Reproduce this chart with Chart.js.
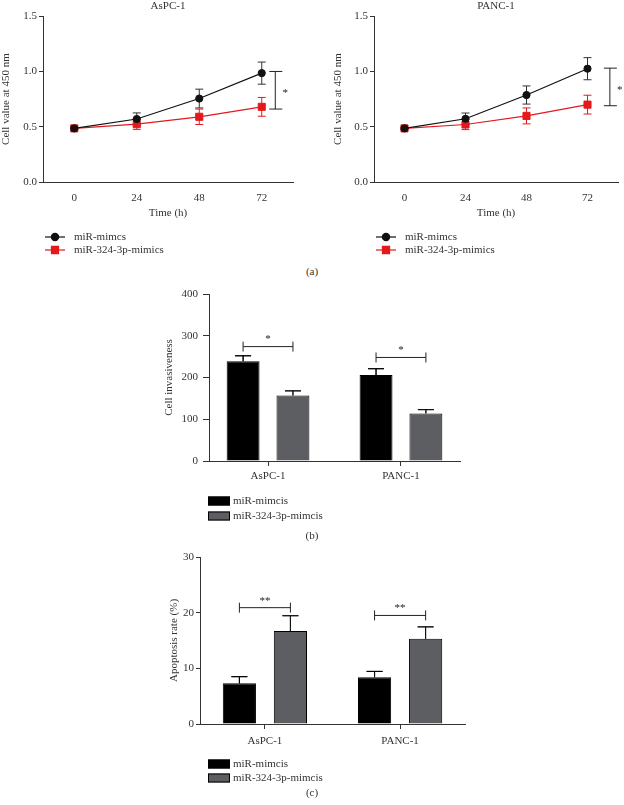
<!DOCTYPE html>
<html>
<head>
<meta charset="utf-8">
<script src="https://cdn.jsdelivr.net/npm/chart.js@4.4.1/dist/chart.umd.min.js"></script>
<style>
  body { margin: 0; background: #fff; width: 624px; height: 805px; position: relative; overflow: hidden; font-family: "Liberation Serif", serif; }
  canvas { position: absolute; }
  .lab { position: absolute; width: 40px; margin-left: -20px; text-align: center; font-size: 11px; line-height: 12px; color: #333; z-index: 2; }
</style>
</head>
<body>
<canvas id="aLeft" width="312" height="260" style="left:0;top:0"></canvas>
<canvas id="aRight" width="312" height="260" style="left:312px;top:0"></canvas>
<div class="lab" style="left:312px;top:265px">(a)</div>
<canvas id="bChart" width="330" height="250" style="left:150px;top:280px"></canvas>
<div class="lab" style="left:312px;top:529px">(b)</div>
<canvas id="cChart" width="330" height="250" style="left:150px;top:545px"></canvas>
<div class="lab" style="left:312px;top:786px">(c)</div>
<script>
// (a) CCK-8 curves
const timePoints = [0, 24, 48, 72];
const lineNames = ['miR-mimcs', 'miR-324-3p-mimics'];
const asMimics = [0.485, 0.57, 0.755, 0.985];
const asMimicsErr = [0.01, 0.055, 0.085, 0.1];
const as324 = [0.485, 0.523, 0.59, 0.68];
const as324Err = [0.01, 0.047, 0.07, 0.085];
const pancMimics = [0.485, 0.572, 0.787, 1.025];
const pancMimicsErr = [0.01, 0.052, 0.082, 0.1];
const panc324 = [0.485, 0.52, 0.598, 0.7];
const panc324Err = [0.01, 0.046, 0.072, 0.085];
const yTicksA = [0, 0.5, 1.0, 1.5];

// (b) invasion, (c) apoptosis
const cellLines = ['AsPC-1', 'PANC-1'];
const barNames = ['miR-mimcis', 'miR-324-3p-mimcis'];
const invMimics = [239, 206];
const invMimicsErr = [13, 15];
const inv324 = [157, 114];
const inv324Err = [11, 9];
const apoMimics = [7.3, 8.4];
const apoMimicsErr = [1.2, 1.05];
const apo324 = [16.7, 15.3];
const apo324Err = [2.75, 2.15];

// significance marks (value coordinates)
const sigAsPC = { x: 77.2, from: 0.66, to: 1.0, label: '*' };
const sigPANC = { x: 80.8, from: 0.69, to: 1.03, label: '*' };
const sigInv = [{ cat: 0, y: 274, label: '*' }, { cat: 1, y: 248, label: '*' }];
const sigApo = [{ cat: 0, y: 20.9, label: '**' }, { cat: 1, y: 19.5, label: '**' }];

const FONT = '"Liberation Serif", "Times New Roman", serif';
Chart.defaults.font.family = FONT;
Chart.defaults.font.size = 11;
Chart.defaults.color = '#333';

const errorBars = {
  id: 'errorBars',
  beforeDatasetsDraw(chart, args, opts) {
    const ctx = chart.ctx, ys = chart.scales.y;
    chart.data.datasets.forEach((ds, i) => {
      if (!ds.err) return;
      const meta = chart.getDatasetMeta(i);
      ctx.save();
      ctx.strokeStyle = ds.errColor;
      ctx.lineWidth = 1;
      meta.data.forEach((el, j) => {
        const v = ds.data[j].y;
        const top = ys.getPixelForValue(v + ds.err[j]);
        const bot = opts.upOnly ? ys.getPixelForValue(v) : ys.getPixelForValue(v - ds.err[j]);
        const w = opts.cap;
        ctx.beginPath();
        ctx.moveTo(el.x, top); ctx.lineTo(el.x, bot);
        ctx.moveTo(el.x - w, top); ctx.lineTo(el.x + w, top);
        if (!opts.upOnly) { ctx.moveTo(el.x - w, bot); ctx.lineTo(el.x + w, bot); }
        ctx.stroke();
      });
      ctx.restore();
    });
  },
  afterDatasetsDraw(chart, args, opts) {
    if (!opts.upOnly) return;
    // redraw the cap stems above bars so they sit on top
    const ctx = chart.ctx, ys = chart.scales.y;
    chart.data.datasets.forEach((ds, i) => {
      const meta = chart.getDatasetMeta(i);
      ctx.save();
      ctx.strokeStyle = ds.errColor;
      ctx.lineWidth = 1;
      meta.data.forEach((el, j) => {
        const v = ds.data[j].y;
        const top = ys.getPixelForValue(v + ds.err[j]);
        const bot = ys.getPixelForValue(v);
        ctx.beginPath();
        ctx.moveTo(el.x, top); ctx.lineTo(el.x, bot);
        ctx.moveTo(el.x - opts.cap, top); ctx.lineTo(el.x + opts.cap, top);
        ctx.stroke();
      });
      ctx.restore();
    });
  }
};

const sigMarks = {
  id: 'sigMarks',
  afterDatasetsDraw(chart, args, opts) {
    const ctx = chart.ctx, xs = chart.scales.x, ys = chart.scales.y;
    ctx.save();
    ctx.strokeStyle = '#222';
    ctx.fillStyle = '#222';
    ctx.lineWidth = 1;
    ctx.font = '11px ' + FONT;
    ctx.textAlign = 'center';
    ctx.textBaseline = 'middle';
    (opts.marks || []).forEach(m => {
      ctx.beginPath();
      if (m.cat !== undefined) {
        const x1 = chart.getDatasetMeta(0).data[m.cat].x;
        const x2 = chart.getDatasetMeta(1).data[m.cat].x;
        const y = ys.getPixelForValue(m.y);
        ctx.moveTo(x1, y); ctx.lineTo(x2, y);
        ctx.moveTo(x1, y - 5); ctx.lineTo(x1, y + 5);
        ctx.moveTo(x2, y - 5); ctx.lineTo(x2, y + 5);
        ctx.stroke();
        ctx.fillText(m.label, (x1 + x2) / 2, y - 7);
      } else {
        const x = xs.getPixelForValue(m.x);
        const y1 = ys.getPixelForValue(m.from), y2 = ys.getPixelForValue(m.to);
        ctx.moveTo(x, y1); ctx.lineTo(x, y2);
        ctx.moveTo(x - 6, y1); ctx.lineTo(x + 7, y1);
        ctx.moveTo(x - 6, y2); ctx.lineTo(x + 7, y2);
        ctx.stroke();
        ctx.fillText(m.label, x + 10, (y1 + y2) / 2 + 3);
      }
    });
    ctx.restore();
  }
};

const sideLegend = {
  id: 'sideLegend',
  afterDraw(chart, args, opts) {
    const ctx = chart.ctx, a = chart.chartArea;
    ctx.save();
    ctx.font = '11px ' + FONT;
    ctx.textAlign = 'left';
    ctx.textBaseline = 'middle';
    chart.data.datasets.forEach((ds, i) => {
      const x = a.left + opts.dx, y = a.bottom + opts.dy[i];
      if (chart.config.type === 'line') {
        ctx.strokeStyle = ds.borderColor;
        ctx.fillStyle = ds.backgroundColor;
        ctx.lineWidth = 1.2;
        ctx.beginPath(); ctx.moveTo(x, y); ctx.lineTo(x + 20, y); ctx.stroke();
        Chart.helpers.drawPoint(ctx, { pointStyle: ds.pointStyle, radius: ds.pointRadius, borderWidth: 1 }, x + 10, y);
      } else {
        ctx.fillStyle = ds.backgroundColor;
        ctx.fillRect(x, y - 4.5, 22, 9);
        ctx.strokeStyle = '#000';
        ctx.lineWidth = 1;
        ctx.strokeRect(x + 0.5, y - 4, 21, 8);
      }
      ctx.fillStyle = '#333';
      ctx.fillText(ds.label, x + opts.textDx, y);
    });
    ctx.restore();
  }
};

function lineChart(id, title, mimics, mimicsErr, p324, p324Err, geo, mark) {
  return new Chart(document.getElementById(id), {
    type: 'line',
    data: {
      datasets: [
        {
          label: lineNames[0],
          data: timePoints.map((t, i) => ({ x: t, y: mimics[i] })),
          err: mimicsErr, errColor: '#333',
          borderColor: '#111', backgroundColor: '#111',
          borderWidth: 1.2, pointStyle: 'circle', pointRadius: 3.6, pointBorderWidth: 1, tension: 0
        },
        {
          label: lineNames[1],
          data: timePoints.map((t, i) => ({ x: t, y: p324[i] })),
          err: p324Err, errColor: '#e3191c',
          borderColor: '#e3191c', backgroundColor: '#e3191c',
          borderWidth: 1.2, pointStyle: 'rect', pointRadius: 5, pointBorderWidth: 1, tension: 0
        }
      ]
    },
    options: {
      responsive: false,
      animation: false,
      layout: { padding: { left: geo.left, right: geo.right, top: 0, bottom: 38 } },
      plugins: {
        legend: { display: false },
        tooltip: { enabled: false },
        title: { display: true, text: title, fullSize: false, color: '#333', font: { size: 11, weight: 'normal' }, padding: { top: 0, bottom: 3 } },
        errorBars: { cap: 4, upOnly: false },
        sigMarks: { marks: [mark] },
        sideLegend: { dx: 2, dy: [55, 68], textDx: 29 }
      },
      scales: {
        x: {
          type: 'linear', min: -12, max: 84,
          afterBuildTicks: s => { s.ticks = timePoints.map(v => ({ value: v })); },
          afterFit: s => { s.height = 40; },
          grid: { display: false, drawTicks: false },
          border: { color: '#333' },
          ticks: { padding: 10, color: '#333' },
          title: { display: true, text: 'Time (h)', color: '#333', padding: { top: 0, bottom: 2 } }
        },
        y: {
          min: 0, max: 1.5,
          afterBuildTicks: s => { s.ticks = yTicksA.map(v => ({ value: v })); },
          afterFit: s => { s.width = geo.yWidth; },
          ticks: { padding: 2, color: '#333', callback: v => v.toFixed(1) },
          grid: { drawOnChartArea: false, tickLength: 4, color: '#333' },
          border: { color: '#333' },
          title: { display: true, text: 'Cell value at 450 nm', color: '#333', padding: 0 }
        }
      }
    },
    plugins: [errorBars, sigMarks, sideLegend]
  });
}

function barChart(id, a, aErr, b, bErr, yMax, yStep, yTitle, marks, geo) {
  return new Chart(document.getElementById(id), {
    type: 'bar',
    data: {
      datasets: [
        {
          label: barNames[0],
          data: cellLines.map((c, i) => ({ x: i, y: a[i] })),
          err: aErr, errColor: '#000',
          backgroundColor: '#000', borderColor: '#000', borderWidth: 1
        },
        {
          label: barNames[1],
          data: cellLines.map((c, i) => ({ x: i, y: b[i] })),
          err: bErr, errColor: '#111',
          backgroundColor: '#5c5e62', borderColor: '#000', borderWidth: 1
        }
      ]
    },
    options: {
      responsive: false,
      animation: false,
      categoryPercentage: geo.cat,
      barPercentage: geo.bar,
      layout: { padding: { left: geo.left, right: geo.right, top: geo.top, bottom: geo.bottom } },
      plugins: {
        legend: { display: false },
        tooltip: { enabled: false },
        errorBars: { cap: 8, upOnly: true },
        sigMarks: { marks: marks },
        sideLegend: { dx: geo.legendX, dy: geo.legendY, textDx: 25 }
      },
      scales: {
        x: {
          type: 'linear', min: geo.xMin, max: geo.xMax, offset: false,
          afterBuildTicks: s => { s.ticks = cellLines.map((c, i) => ({ value: i })); },
          afterFit: s => { s.height = 30; },
          grid: { drawOnChartArea: false, offset: false, tickLength: 5, color: '#333' },
          border: { color: '#333' },
          ticks: { padding: geo.xPad, color: '#333', callback: v => cellLines[v] }
        },
        y: {
          min: 0, max: yMax,
          ticks: { stepSize: yStep, padding: geo.yPad, color: '#333' },
          afterFit: s => { s.width = geo.yWidth; },
          grid: { drawOnChartArea: false, tickLength: geo.yTick, color: '#333' },
          border: { color: '#333' },
          title: { display: true, text: yTitle, color: '#333', padding: 0 }
        }
      }
    },
    plugins: [errorBars, sigMarks, sideLegend]
  });
}

lineChart('aLeft', 'AsPC-1', asMimics, asMimicsErr, as324, as324Err,
  { left: 0, yWidth: 43, right: 19 }, sigAsPC);
lineChart('aRight', 'PANC-1', pancMimics, pancMimicsErr, panc324, panc324Err,
  { left: 20, yWidth: 42, right: 2 }, sigPANC);

barChart('bChart', invMimics, invMimicsErr, inv324, inv324Err, 400, 100, 'Cell invasiveness', sigInv,
  { left: 13, yWidth: 46, right: 20, top: 14, bottom: 39, xMin: -0.444, xMax: 1.444,
    cat: 0.75, bar: 0.66, xPad: 4, yPad: 5, yTick: 6, legendX: -1, legendY: [40, 55] });
barChart('cChart', apoMimics, apoMimicsErr, apo324, apo324Err, 30, 10, 'Apoptosis rate (%)', sigApo,
  { left: 18, yWidth: 32, right: 15, top: 12, bottom: 41, xMin: -0.48, xMax: 1.48,
    cat: 0.755, bar: 0.65, xPad: 6, yPad: 2, yTick: 4, legendX: 8, legendY: [40, 54] });
</script>
</body>
</html>
